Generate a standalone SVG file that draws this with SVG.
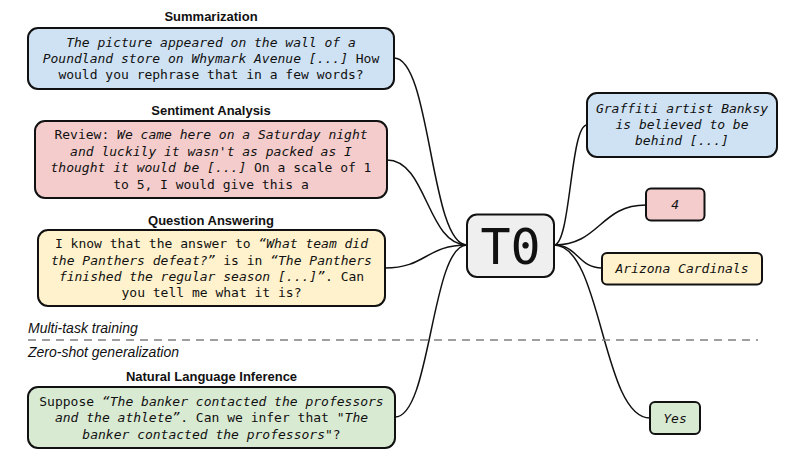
<svg xmlns="http://www.w3.org/2000/svg" width="801" height="467" viewBox="0 0 801 467">
<style>
.bg{fill:#ffffff}
.box{stroke:#111;stroke-width:2}
.blue{fill:#cfe2f3}
.pink{fill:#f4cccc}
.yellow{fill:#fff2cc}
.green{fill:#d9ead3}
.grey{fill:#efefef}
.t{font-family:"DejaVu Sans Mono","Liberation Mono",monospace;font-size:13px;fill:#111;text-anchor:middle;white-space:pre}
.i{font-style:italic}
.title{font-family:"Liberation Sans",Arial,sans-serif;font-size:13px;font-weight:bold;fill:#111;text-anchor:middle}
.side{font-family:"Liberation Sans",Arial,sans-serif;font-size:14px;font-style:italic;fill:#111}
.link{fill:none;stroke:#111;stroke-width:1.5}
.t0{font-family:"DejaVu Sans Mono","Liberation Mono",monospace;font-size:50px;fill:#111;text-anchor:middle}
</style>
<rect class="bg" x="0" y="0" width="801" height="467"/>

<g id="connectors">
<path class="link" d="M394,58 C431,58 430,245 467,245"/>
<path class="link" d="M387,160 C427,160 427,245 467,245"/>
<path class="link" d="M385,268 C426,268 426,245 467,245"/>
<path class="link" d="M395,417 C431,417 431,245 467,245"/>
<path class="link" d="M554,245 C571,245 570,125 587,125"/>
<path class="link" d="M554,245 C600,245 600,205 646,205"/>
<path class="link" d="M554,245 C578,245 578,268 602,268"/>
<path class="link" d="M554,245 C602,245 602,418 650,418"/>
</g>

<g id="divider">
<line x1="28" y1="340" x2="758" y2="340" stroke="#808080" stroke-width="1.5" stroke-dasharray="8,6"/>
<text class="side" x="28" y="333">Multi-task training</text>
<text class="side" x="28" y="357">Zero-shot generalization</text>
</g>

<g id="summarization">
<text class="title" x="211" y="21">Summarization</text>
<rect class="box blue" x="28" y="28" width="366" height="61" rx="10"/>
<text class="t" x="211" y="46.5"><tspan class="i">The picture appeared on the wall of a</tspan></text>
<text class="t" x="211" y="62.8"><tspan class="i">Poundland store on Whymark Avenue [...]</tspan> How</text>
<text class="t" x="211" y="79">would you rephrase that in a few words?</text>
</g>

<g id="sentiment">
<text class="title" x="211" y="115">Sentiment Analysis</text>
<rect class="box pink" x="35" y="121" width="352" height="77" rx="10"/>
<text class="t" x="211" y="139">Review: <tspan class="i">We came here on a Saturday night</tspan></text>
<text class="t" x="211" y="155.5"><tspan class="i">and luckily it wasn't as packed as I</tspan></text>
<text class="t" x="211" y="172"><tspan class="i">thought it would be [...]</tspan> On a scale of 1</text>
<text class="t" x="211" y="188.5">to 5, I would give this a</text>
</g>

<g id="qa">
<text class="title" x="211" y="225">Question Answering</text>
<rect class="box yellow" x="38" y="230" width="347" height="76" rx="10"/>
<text class="t" x="211.5" y="248">I know that the answer to <tspan class="i">“What team did</tspan></text>
<text class="t" x="211.5" y="264.5"><tspan class="i">the Panthers defeat?”</tspan> is in <tspan class="i">“The Panthers</tspan></text>
<text class="t" x="211.5" y="281"><tspan class="i">finished the regular season [...]”</tspan>. Can</text>
<text class="t" x="211.5" y="297">you tell me what it is?</text>
</g>

<g id="nli">
<text class="title" x="211.5" y="381">Natural Language Inference</text>
<rect class="box green" x="28" y="387" width="367" height="61" rx="10"/>
<text class="t" x="211.5" y="406">Suppose <tspan class="i">“The banker contacted the professors</tspan></text>
<text class="t" x="211.5" y="422.3"><tspan class="i">and the athlete”</tspan>. Can we infer that "<tspan class="i">The</tspan></text>
<text class="t" x="211.5" y="438.6"><tspan class="i">banker contacted the professors</tspan>"?</text>
</g>

<g id="t0">
<rect class="box grey" x="467" y="214.5" width="87" height="62.5" rx="10" stroke-width="2.5"/>
<text class="t0" x="510.5" y="264">T0</text>
</g>

<g id="out-summary">
<rect class="box blue" x="587" y="93" width="190" height="64" rx="10"/>
<text class="t i" x="682" y="112.5">Graffiti artist Banksy</text>
<text class="t i" x="682" y="128.5">is believed to be</text>
<text class="t i" x="682" y="144.5">behind [...]</text>
</g>

<g id="out-sentiment">
<rect class="box pink" x="646" y="188.5" width="58.5" height="32" rx="5"/>
<text class="t i" x="675.25" y="209">4</text>
</g>

<g id="out-qa">
<rect class="box yellow" x="602" y="253" width="160" height="31.5" rx="5"/>
<text class="t i" x="682" y="273">Arizona Cardinals</text>
</g>

<g id="out-nli">
<rect class="box green" x="650" y="402" width="50" height="32" rx="5"/>
<text class="t i" x="675" y="422.5">Yes</text>
</g>
</svg>
